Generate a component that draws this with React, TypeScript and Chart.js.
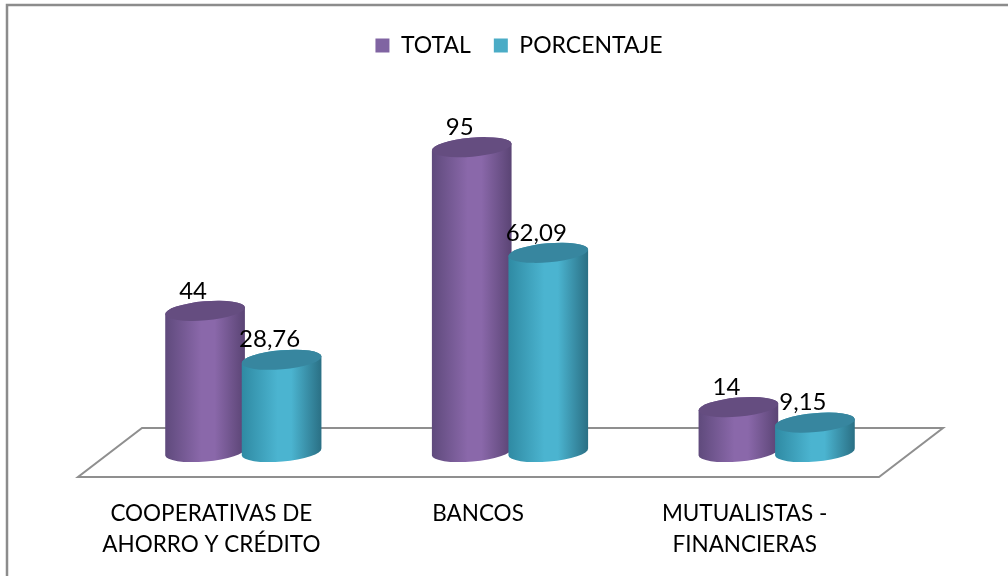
import React, { useEffect, useRef } from "react";
import { Chart, registerables } from "chart.js";

Chart.register(...registerables);

const categories = [
  ["COOPERATIVAS DE", "AHORRO Y CRÉDITO"],
  ["BANCOS"],
  ["MUTUALISTAS -", "FINANCIERAS"],
];
const totalValues = [44, 95, 14];
const percentValues = [28.76, 62.09, 9.15];
const seriesNames = ["TOTAL", "PORCENTAJE"];
const fontFamily = "Lato, 'Open Sans', sans-serif";

const palettes = [
  { swatch: "#8064a2", edgeL: "#5f4a7c", mid: "#8a68aa", edgeR: "#5a4474", top: "#654d80" },
  { swatch: "#4bacc6", edgeL: "#2f8aa3", mid: "#4bb4d0", edgeR: "#2a6f84", top: "#37869f" },
];

const TILT = (-5 * Math.PI) / 180;
const RY = 9.5;

const cylinderPlugin = {
  id: "cylinders",
  afterLayout(chart: any) {
    chart.legend.left += 9;
    chart.legend.right += 9;
  },
  beforeDraw(chart: any) {
    const { ctx, width, height } = chart;
    ctx.save();
    ctx.fillStyle = "#ffffff";
    ctx.fillRect(0, 0, width, height);
    ctx.strokeStyle = "#8c8c8c";
    ctx.lineWidth = 2.5;
    ctx.beginPath();
    ctx.moveTo(7, height);
    ctx.lineTo(7, 5);
    ctx.lineTo(width, 5);
    ctx.stroke();
    ctx.restore();
  },
  beforeDatasetsDraw(chart: any) {
    const { ctx, chartArea } = chart;
    const fy = chartArea.bottom;
    ctx.save();
    // floor
    ctx.beginPath();
    ctx.moveTo(chartArea.left - 32, fy + 25);
    ctx.lineTo(chartArea.right - 31, fy + 25);
    ctx.lineTo(chartArea.right + 33, fy - 24);
    ctx.lineTo(chartArea.left + 32, fy - 24);
    ctx.closePath();
    ctx.strokeStyle = "#8f8f8f";
    ctx.lineWidth = 2;
    ctx.stroke();

    const n = chart.data.labels.length;
    for (let i = 0; i < n; i++) {
      chart.data.datasets.forEach((_: any, d: number) => {
        const el = chart.getDatasetMeta(d).data[i];
        const p = palettes[d];
        const rx = el.width / 2;
        const g = ctx.createLinearGradient(el.x - rx, 0, el.x + rx, 0);
        g.addColorStop(0, p.edgeL);
        g.addColorStop(0.45, p.mid);
        g.addColorStop(0.62, p.mid);
        g.addColorStop(1, p.edgeR);
        ctx.beginPath();
        ctx.ellipse(el.x, el.base, rx, RY, TILT, 0, Math.PI, false);
        ctx.ellipse(el.x, el.y, rx, RY, TILT, Math.PI, 0, false);
        ctx.closePath();
        ctx.fillStyle = g;
        ctx.fill();
        ctx.beginPath();
        ctx.ellipse(el.x, el.y, rx, RY, TILT, 0, Math.PI * 2);
        ctx.fillStyle = p.top;
        ctx.fill();
      });
    }
    // value labels
    ctx.fillStyle = "#000000";
    ctx.font = `24px ${fontFamily}`;
    ctx.textAlign = "center";
    ctx.textBaseline = "middle";
    for (let i = 0; i < n; i++) {
      chart.data.datasets.forEach((ds: any, d: number) => {
        const el = chart.getDatasetMeta(d).data[i];
        const text = String(ds.data[i]).replace(".", ",");
        ctx.fillText(text, el.x - 12, el.y - 20);
      });
    }
    ctx.restore();
    return false;
  },
};

export default function App() {
  const ref = useRef<HTMLCanvasElement>(null);
  useEffect(() => {
    const chart = new Chart(ref.current as HTMLCanvasElement, {
      type: "bar",
      data: {
        labels: categories,
        datasets: [
          { label: seriesNames[0], data: totalValues, backgroundColor: palettes[0].swatch },
          { label: seriesNames[1], data: percentValues, backgroundColor: palettes[1].swatch },
        ],
      },
      options: {
        animation: false,
        responsive: false,
        maintainAspectRatio: false,
        categoryPercentage: 0.574,
        barPercentage: 1.045,
        layout: { padding: { top: 11, left: 110, right: 98, bottom: 0 } },
        plugins: {
          legend: {
            display: true,
            position: "top",
            labels: {
              boxWidth: 14,
              boxHeight: 14,
              padding: 23,
              color: "#000000",
              font: { family: fontFamily, size: 23 },
            },
          },
          tooltip: { enabled: false },
        },
        scales: {
          x: {
            grid: { display: false },
            border: { display: false },
            afterFit: (s: any) => {
              s.height = 124;
            },
            ticks: {
              color: "#000000",
              font: { family: fontFamily, size: 22.5, lineHeight: 1.38 },
              padding: 38,
              labelOffset: -32,
              maxRotation: 0,
              minRotation: 0,
              autoSkip: false,
            },
          },
          y: {
            display: false,
            min: 0,
            max: 120,
          },
        },
      } as any,
      plugins: [cylinderPlugin],
    });
    return () => chart.destroy();
  }, []);
  return (
    <div style={{ position: "absolute", left: 0, top: 0, width: 1008, height: 576, overflow: "hidden" }}>
      <canvas ref={ref} width={1008} height={576} style={{ display: "block" }} />
    </div>
  );
}
